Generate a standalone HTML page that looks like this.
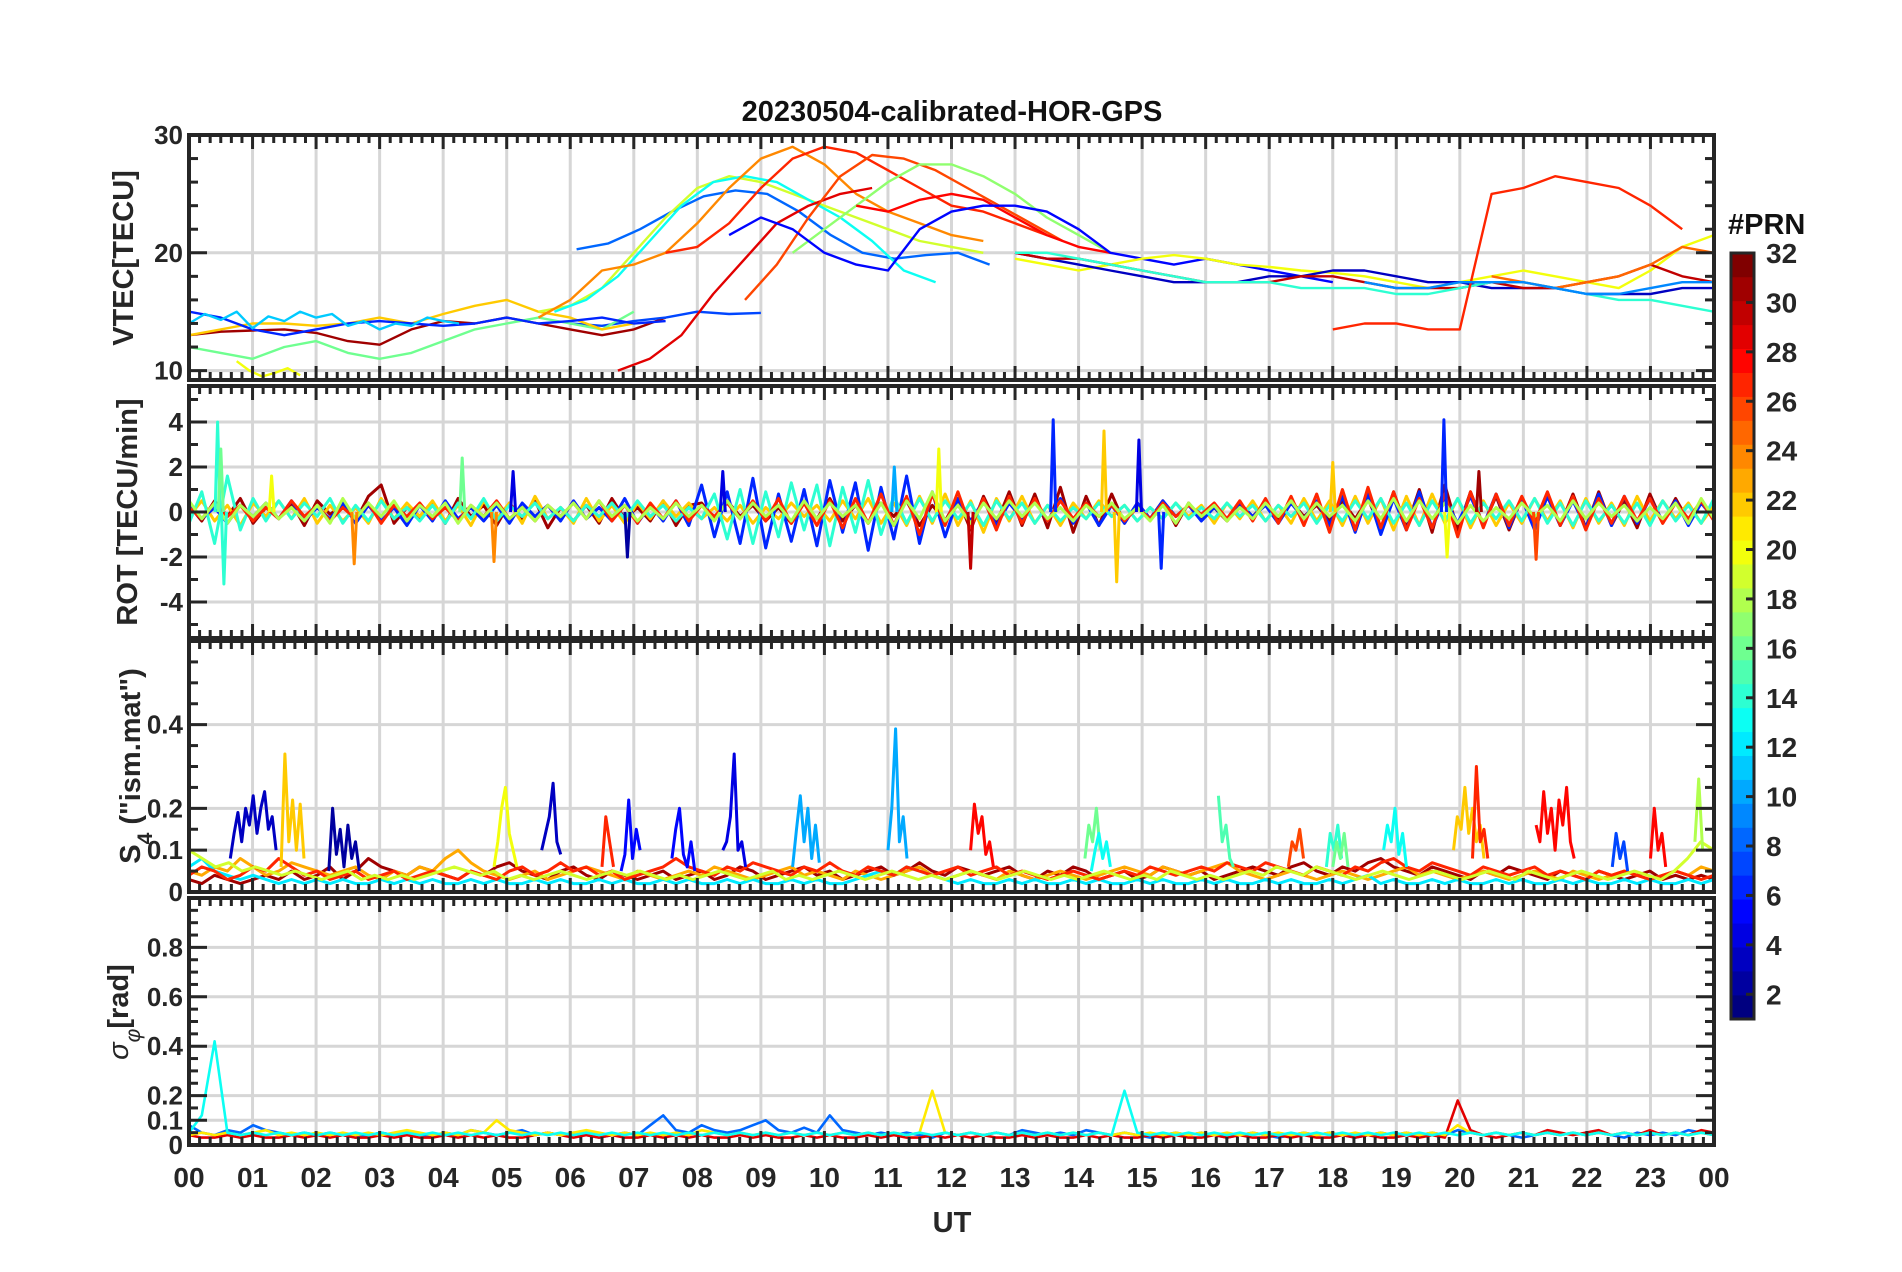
<!DOCTYPE html>
<html><head><meta charset="utf-8"><title>20230504-calibrated-HOR-GPS</title>
<style>
html,body{margin:0;padding:0;background:#fff;}
svg{display:block;font-family:"Liberation Sans",Arial,sans-serif;font-weight:bold;}
</style></head>
<body>
<svg id="fig" width="1902" height="1272" viewBox="0 0 1902 1272" xmlns="http://www.w3.org/2000/svg">
<rect width="1902" height="1272" fill="#fff"/>
<text x="952" y="121" font-size="29" text-anchor="middle" fill="#111">20230504-calibrated-HOR-GPS</text>
<text x="952" y="1232" font-size="29" text-anchor="middle" fill="#262626">UT</text>
<g id="panels"></g>
<g id="cbar"></g>
</svg>
<script>
// ---------- data ----------
const hours = ["00","01","02","03","04","05","06","07","08","09","10","11","12","13","14","15","16","17","18","19","20","21","22","23","00"];
const vtecTicks=[10,20,30], rotTicks=[-4,-2,0,2,4], s4Ticks=[0,0.1,0.2,0.4], sigTicks=[0,0.1,0.2,0.4,0.6,0.8];
const cbarTicks=[2,4,6,8,10,12,14,16,18,20,22,24,26,28,30,32];
// VTEC arcs
const vtecPRN=[31,7,16,22,6,8,19,13,24,27,29,26,17,28,5,20,3,30,14,27,25,9,11,20];
const vtecT0=[0,6,0,0,0,6.1,5.5,5.75,5.5,7.5,6.75,8.75,9.5,10.5,8.5,13,13,13,13,18,20.5,18.5,0,0.75];
const vtecStep=[0.5,0.5,0.5,0.5,0.5,0.5,0.5,0.5,0.5,0.5,0.5,0.5,0.5,0.5,0.5,0.5,0.5,0.5,0.5,0.5,0.5,0.5,0.25,0.2];
const vtecVals=[
[13,13.3,13.4,13.5,13.2,12.5,12.2,13.5,14.2,14,14.5,14,13.5,13,13.5,14.5],
[14,13.8,14.2,14.5,15,14.8,14.9],
[12,11.5,11,12,12.5,11.5,11,11.5,12.5,13.5,14,14.5,14,13.5,15],
[13,13.5,14,14,13.8,14,14.5,14,14.8,15.5,16,15,14.5,13.5,14],
[15,14.5,13.5,13,13.5,14,14.2,14,13.8,14,14.5,14,14.2,14.5,14,14.2],
[20.3,20.8,22,23.5,24.8,25.3,25,23.5,21.5,20,19.5,19.8,20,19],
[15,15.5,17,20,23,25.5,26.5,26,25,24,23,22,21,20.5,20],
[15,16,18,21,24,26,26.5,26,24.5,23,21,18.5,17.5],
[14.5,16,18.5,19,20,22.5,25.5,28,29,27.5,25,23.5,22.5,21.5,21],
[20,20.5,22.5,25.5,28,29,28.5,27,25.5,24,23.5,22.5,21.5],
[10,11,13,16.5,19.5,22.5,24,25,25.5],
[16,19,23,26.5,28.3,28,27,25.5,24,22.5,21],
[20,22,24,26,27.5,27.5,26.5,25,23,21.5,20],
[24,23.5,24.5,25,24.5,23,21.5,20.5,20],
[21.5,23,22,20,19,18.5,22,23.5,24,24,23.5,22,20,19.5,19,19.5,19,18.5,18,17.5],
[19.5,19,18.5,19,19.5,19.8,19.5,19,18.8,18.5,18.3,18,17.5,17,17.5,18,18.5,18,17.5,17,18.5,20.5,21.5,20,18],
[20,19.5,19,18.5,18,17.5,17.5,17.5,18,18,18.5,18.5,18,17.5,17.5,17,17,17,16.5,16.5,16.5,17,17,16.5,16,16.5,16.5,16,17,19,17,15.5],
[20,19.5,19.5,19,18.5,18,17.5,17.5,17.5,18,18,17.5,17,17,17,17.5,17,17,17.5,18,19,18,17.5,17,17.5,16.5,16,15.5,15,14.5,14,14.5,14],
[20,20,19.5,19,18.5,18,17.5,17.5,17.5,17,17,17,16.5,16.5,17,17.5,17.5,17,16.5,16,16,15.5,15,15,15.5,16,15.5,15,14.5,15,15],
[13.5,14,14,13.5,13.5,25,25.5,26.5,26,25.5,24,22],
[18,17.5,17,17.5,18,19,20.5,20,18.5,16.5,15,14,13.5,14,14.5,14],
[17.5,17,17,17.5,17.5,17.5,17,16.5,16.5,17,17.5,17.5,17,16.5,15.5,15,15,15,15],
[14,14.8,14.3,15,13.6,14.6,14.2,15,14.5,14.8,13.8,14.2,13.5,14,13.8,14.5,14.2,14],
[10.8,10,9.5,9.8,10.2,9.6]
];
// ROT noise
const rotPRN=[31,22,6,14,27,18];
const rotVals=[
[0.3,-0.4,0.5,-0.2,0.6,-0.5,0.2,-0.3,0.4,-0.6,0.5,-0.1,0.3,-0.4,0.7,1.2,-0.5,0.2,-0.3,0.4,-0.5,0.6,-0.2,0.3,-0.6,0.4,-0.3,0.5,-0.7,0.2,-0.4,0.3,-0.5,0.6,-0.3,0.2,-0.4,0.5,-0.6,0.3,0.4,-0.3,0.5,-0.2,0.3,-0.4,0.2,-0.5,0.4,-0.3,0.6,-0.4,0.3,-0.5,0.4,-0.2,0.5,-0.6,0.3,-0.4,0.6,-0.8,0.7,-0.5,0.9,-0.6,0.8,-0.7,1.1,-0.9,0.7,-0.6,0.8,-0.5,0.4,-0.3,0.5,-0.6,0.4,-0.3,0.2,-0.4,0.3,-0.2,0.4,-0.3,0.5,-0.2,0.3,-0.4,0.5,-0.3,0.6,-0.8,0.9,-0.7,1.0,-0.9,1.2,-0.8,0.9,-0.6,0.7,-0.8,0.6,-0.5,0.7,-0.6,0.8,-0.7,0.9,-0.6,0.5,-0.7,0.8,-0.5,0.6,-0.4,0.5,-0.3],
[-0.2,0.5,-0.4,0.3,-0.6,0.4,-0.2,0.5,-0.3,0.6,-0.5,0.3,-0.4,0.2,-0.5,0.6,-0.3,0.4,-0.2,0.5,-0.4,0.3,-0.6,0.5,-0.3,0.4,-0.5,0.7,-0.3,0.2,-0.5,0.6,-0.4,0.3,-0.5,0.4,-0.3,0.5,-0.2,0.4,-0.3,0.2,-0.4,0.3,-0.5,0.2,-0.3,0.4,-0.2,0.3,-0.4,0.5,-0.3,0.6,-0.5,0.4,-0.6,0.7,-0.5,0.8,-0.6,0.5,-0.9,0.6,-0.4,0.7,-0.5,0.3,-0.6,0.4,-0.3,0.5,-0.2,0.3,-0.4,0.2,-0.3,0.4,-0.2,0.3,-0.5,0.4,-0.3,0.5,-0.4,0.3,-0.5,0.6,-0.4,0.5,-0.6,0.7,-0.5,0.6,-0.8,0.7,-0.6,0.8,-0.5,0.6,-0.7,0.5,-0.6,0.4,-0.5,0.6,-0.4,0.5,-0.7,0.6,-0.5,0.4,-0.6,0.7,-0.4,0.5,-0.3,0.4,-0.5,0.3],
[0.4,-0.3,0.2,-0.5,0.3,-0.2,0.4,-0.3,0.5,-0.4,0.2,-0.3,0.4,-0.5,0.3,-0.4,0.2,-0.6,0.3,-0.4,0.5,-0.3,0.2,-0.4,0.3,-0.5,0.4,-0.2,0.3,-0.4,0.5,-0.3,0.2,-0.4,0.6,-0.5,0.3,-0.4,0.5,-0.6,1.2,-1.1,0.9,-1.4,1.5,-1.6,0.8,-1.3,1.0,-1.5,1.4,-0.9,1.3,-1.7,1.1,-1.2,1.6,-1.4,0.9,-1.1,0.6,-0.4,0.5,-0.6,0.4,-0.3,0.5,-0.4,0.6,-0.5,0.4,-0.6,0.3,-0.5,0.4,-0.3,0.5,-0.2,0.3,-0.4,0.2,-0.3,0.4,-0.2,0.3,-0.5,0.4,-0.3,0.5,-0.6,0.7,-0.9,0.8,-1.0,0.6,-0.8,0.9,-0.7,0.6,-0.5,0.7,-0.6,0.8,-0.7,0.6,-0.8,0.7,-0.6,0.5,-0.7,0.8,-0.6,0.7,-0.5,0.6,-0.4,0.5,-0.6,0.4,-0.3],
[-0.5,0.9,-1.4,1.6,-0.8,0.6,-0.4,0.5,-0.3,0.4,-0.2,0.6,-0.5,0.3,-0.4,0.5,-0.3,0.2,-0.4,0.3,-0.5,0.4,-0.3,0.6,-0.4,0.3,-0.2,0.4,-0.3,0.2,-0.4,0.3,-0.2,0.4,-0.3,0.5,-0.2,0.3,-0.4,0.2,-0.3,0.8,-1.2,1.0,-1.4,0.9,-1.1,1.3,-0.8,1.2,-1.5,1.1,-0.9,1.4,-1.0,0.7,-0.5,0.6,-0.4,0.5,-0.3,0.4,-0.6,0.5,-0.3,0.4,-0.5,0.3,-0.4,0.2,-0.3,0.4,-0.2,0.3,-0.4,0.2,-0.3,0.4,-0.3,0.2,-0.3,0.4,-0.2,0.3,-0.4,0.3,-0.2,0.4,-0.5,0.3,-0.4,0.5,-0.3,0.6,-0.5,0.4,-0.6,0.5,-0.4,0.6,-0.5,0.4,-0.3,0.5,-0.4,0.6,-0.5,0.4,-0.6,0.5,-0.4,0.3,-0.5,0.4,-0.6,0.5,-0.4,0.3,-0.5,0.6],
[0.2,-0.3,0.4,-0.2,0.3,-0.4,0.2,-0.3,0.5,-0.2,0.3,-0.4,0.2,-0.3,0.4,-0.5,0.3,-0.2,0.4,-0.3,0.2,-0.4,0.3,-0.2,0.5,-0.3,0.2,-0.4,0.3,-0.2,0.4,-0.3,0.5,-0.4,0.3,-0.5,0.4,-0.3,0.5,-0.4,0.3,-0.2,0.4,-0.3,0.5,-0.4,0.6,-0.5,0.4,-0.6,0.5,-0.7,0.6,-0.5,0.8,-0.6,0.7,-1.0,0.8,-0.6,0.9,-0.7,0.6,-0.8,0.7,-0.5,0.6,-0.4,0.5,-0.3,0.4,-0.2,0.3,-0.4,0.2,-0.3,0.4,-0.2,0.3,-0.1,0.4,-0.3,0.5,-0.4,0.6,-0.5,0.7,-0.6,0.8,-0.9,1.0,-0.8,1.1,-0.7,0.9,-0.8,0.6,-0.7,0.8,-1.1,0.9,-0.7,0.8,-0.6,0.7,-0.5,0.9,-0.6,0.7,-0.8,0.6,-0.5,0.7,-0.4,0.6,-0.5,0.4,-0.3,0.5,-0.4],
[0.5,-0.3,0.4,-0.5,0.3,-0.2,0.4,-0.3,0.2,-0.4,0.3,-0.5,0.6,-0.3,0.4,-0.2,0.5,-0.4,0.3,-0.2,0.4,-0.5,0.3,-0.2,0.4,-0.3,0.2,-0.4,0.3,-0.2,0.4,-0.3,0.5,-0.2,0.3,-0.4,0.2,-0.3,0.4,-0.2,0.3,-0.4,0.5,-0.3,0.4,-0.2,0.3,-0.4,0.5,-0.3,0.4,-0.2,0.3,-0.5,0.4,-0.6,0.5,-0.3,0.9,-0.4,0.3,-0.5,0.4,-0.3,0.5,-0.2,0.4,-0.3,0.2,-0.4,0.3,-0.2,0.4,-0.3,0.2,-0.4,0.3,-0.5,0.4,-0.2,0.3,-0.4,0.2,-0.3,0.4,-0.2,0.5,-0.3,0.4,-0.2,0.3,-0.4,0.5,-0.3,0.6,-0.4,0.5,-0.3,0.4,-0.5,0.3,-0.4,0.2,-0.3,0.4,-0.2,0.3,-0.4,0.5,-0.3,0.4,-0.2,0.3,-0.4,0.2,-0.3,0.4,-0.5,0.6,-0.3]
];
// ROT spikes
const spikeT=[0.45,0.55,0.5,1.3,2.6,4.3,4.8,5.1,6.9,8.4,11.1,11.8,12.3,13.6,14.4,14.6,14.95,15.3,18.0,19.75,19.8,20.3,21.2];
const spikeV=[4.0,-3.2,2.8,1.6,-2.3,2.4,-2.2,1.8,-2.0,1.8,2.0,2.8,-2.5,4.1,3.6,-3.1,3.2,-2.5,2.2,4.1,-2.0,1.8,-2.1];
const spikePRN=[14,14,16,20,24,16,24,4,2,4,10,20,30,6,22,22,4,6,22,6,20,31,26];
// S4 background
const s4PRN=[31,23,12,27,19];
const s4Vals=[
[0.03,0.02,0.04,0.03,0.02,0.03,0.04,0.03,0.05,0.03,0.04,0.06,0.03,0.05,0.08,0.06,0.05,0.04,0.06,0.05,0.04,0.03,0.05,0.04,0.06,0.07,0.05,0.04,0.03,0.05,0.06,0.04,0.03,0.05,0.04,0.03,0.04,0.05,0.03,0.04,0.05,0.03,0.04,0.06,0.05,0.03,0.04,0.05,0.06,0.04,0.05,0.03,0.04,0.05,0.06,0.04,0.05,0.07,0.05,0.04,0.06,0.05,0.04,0.05,0.06,0.04,0.03,0.05,0.04,0.06,0.05,0.03,0.04,0.05,0.03,0.04,0.06,0.05,0.04,0.05,0.03,0.04,0.05,0.06,0.05,0.04,0.06,0.07,0.05,0.04,0.06,0.05,0.07,0.08,0.06,0.05,0.04,0.06,0.05,0.04,0.03,0.05,0.04,0.06,0.05,0.04,0.03,0.05,0.04,0.03,0.05,0.04,0.03,0.04,0.05,0.03,0.04,0.03,0.04,0.03],
[0.05,0.04,0.06,0.05,0.08,0.06,0.04,0.05,0.07,0.06,0.05,0.04,0.05,0.06,0.04,0.03,0.05,0.04,0.06,0.05,0.08,0.1,0.07,0.05,0.04,0.03,0.04,0.05,0.03,0.04,0.05,0.06,0.05,0.04,0.03,0.05,0.04,0.03,0.04,0.05,0.04,0.06,0.05,0.04,0.03,0.04,0.05,0.06,0.04,0.05,0.04,0.03,0.05,0.04,0.03,0.04,0.05,0.06,0.04,0.03,0.04,0.05,0.04,0.03,0.05,0.04,0.03,0.04,0.05,0.04,0.03,0.04,0.05,0.06,0.05,0.04,0.06,0.05,0.04,0.05,0.06,0.07,0.05,0.04,0.03,0.04,0.05,0.04,0.03,0.04,0.05,0.04,0.03,0.04,0.05,0.06,0.04,0.05,0.04,0.03,0.04,0.05,0.04,0.03,0.04,0.05,0.04,0.03,0.05,0.04,0.03,0.04,0.05,0.04,0.03,0.04,0.05,0.04,0.06,0.05],
[0.06,0.08,0.05,0.04,0.03,0.04,0.03,0.02,0.03,0.02,0.03,0.02,0.03,0.02,0.02,0.03,0.02,0.03,0.02,0.03,0.02,0.02,0.03,0.02,0.03,0.02,0.02,0.03,0.02,0.03,0.02,0.02,0.03,0.02,0.03,0.02,0.02,0.03,0.02,0.03,0.02,0.02,0.03,0.02,0.03,0.02,0.02,0.03,0.02,0.03,0.02,0.02,0.03,0.04,0.05,0.04,0.06,0.05,0.04,0.03,0.02,0.03,0.02,0.02,0.03,0.02,0.03,0.02,0.02,0.03,0.02,0.03,0.02,0.02,0.03,0.02,0.03,0.02,0.02,0.03,0.02,0.03,0.02,0.02,0.03,0.02,0.03,0.02,0.02,0.03,0.02,0.03,0.04,0.02,0.03,0.02,0.02,0.03,0.02,0.03,0.02,0.02,0.03,0.02,0.03,0.02,0.02,0.03,0.02,0.03,0.02,0.02,0.03,0.02,0.03,0.02,0.02,0.03,0.02,0.03],
[0.04,0.06,0.05,0.03,0.04,0.06,0.05,0.08,0.06,0.04,0.05,0.03,0.04,0.05,0.03,0.04,0.05,0.03,0.04,0.05,0.04,0.03,0.05,0.04,0.03,0.05,0.06,0.04,0.05,0.07,0.05,0.06,0.04,0.05,0.03,0.04,0.05,0.06,0.08,0.06,0.05,0.04,0.06,0.05,0.07,0.06,0.05,0.04,0.06,0.05,0.07,0.05,0.04,0.06,0.05,0.04,0.06,0.05,0.04,0.05,0.06,0.04,0.05,0.06,0.04,0.05,0.04,0.03,0.04,0.05,0.04,0.03,0.04,0.05,0.04,0.06,0.05,0.04,0.05,0.06,0.05,0.07,0.06,0.05,0.07,0.06,0.05,0.04,0.06,0.05,0.04,0.06,0.05,0.07,0.08,0.06,0.05,0.07,0.06,0.05,0.04,0.06,0.05,0.04,0.05,0.06,0.04,0.05,0.04,0.03,0.05,0.04,0.05,0.04,0.03,0.04,0.05,0.04,0.03,0.04],
[0.1,0.08,0.06,0.07,0.05,0.06,0.05,0.04,0.05,0.04,0.03,0.04,0.05,0.03,0.04,0.03,0.04,0.03,0.04,0.05,0.06,0.05,0.04,0.05,0.03,0.04,0.03,0.04,0.05,0.04,0.03,0.04,0.05,0.04,0.05,0.04,0.03,0.04,0.03,0.04,0.05,0.04,0.03,0.04,0.05,0.03,0.04,0.03,0.04,0.05,0.04,0.03,0.04,0.05,0.04,0.03,0.04,0.03,0.04,0.05,0.04,0.03,0.04,0.05,0.04,0.03,0.04,0.03,0.04,0.05,0.04,0.03,0.04,0.03,0.05,0.04,0.03,0.04,0.03,0.04,0.05,0.04,0.06,0.05,0.04,0.06,0.05,0.04,0.03,0.04,0.05,0.04,0.03,0.04,0.05,0.04,0.03,0.04,0.05,0.04,0.03,0.05,0.04,0.03,0.04,0.05,0.04,0.03,0.04,0.05,0.04,0.03,0.05,0.08,0.12,0.1]
];
// S4 bursts
const burstPRN=[3,22,2,20,3,5,27,5,4,10,10,28,16,13,15,26,14,16,13,22,27,28,7,28,18];
const burstT0=[0.65,1.45,2.2,4.8,5.55,6.8,6.5,7.6,8.4,9.5,11.0,12.3,14.1,14.2,16.2,17.3,17.9,18.0,18.8,19.9,20.2,21.2,22.4,23.0,23.7];
const burstVals=[
[0.08,0.14,0.19,0.12,0.2,0.16,0.23,0.14,0.2,0.24,0.15,0.18,0.1],
[0.06,0.33,0.12,0.22,0.1,0.21,0.08],
[0.05,0.2,0.09,0.15,0.06,0.16,0.08,0.12,0.05],
[0.06,0.12,0.2,0.25,0.14,0.1,0.06],
[0.1,0.14,0.18,0.26,0.12,0.09],
[0.05,0.09,0.22,0.08,0.15,0.1],
[0.06,0.18,0.12,0.06],
[0.08,0.15,0.2,0.09,0.06,0.12,0.05],
[0.1,0.12,0.18,0.33,0.1,0.12,0.06],
[0.06,0.15,0.23,0.12,0.2,0.08,0.16,0.07],
[0.1,0.2,0.39,0.12,0.18,0.08],
[0.1,0.21,0.14,0.18,0.09,0.12,0.06],
[0.08,0.16,0.12,0.2,0.1],
[0.05,0.1,0.14,0.08,0.12,0.06],
[0.23,0.12,0.16,0.08,0.06],
[0.06,0.12,0.1,0.15,0.08],
[0.06,0.14,0.1,0.16,0.08],
[0.06,0.12,0.08,0.14,0.06],
[0.1,0.16,0.12,0.2,0.09,0.14,0.06],
[0.1,0.18,0.15,0.25,0.14,0.2,0.12,0.16,0.08],
[0.08,0.3,0.12,0.15,0.08],
[0.16,0.12,0.24,0.14,0.2,0.1,0.22,0.16,0.25,0.12,0.08],
[0.06,0.14,0.08,0.12,0.05],
[0.08,0.2,0.1,0.14,0.06],
[0.12,0.27,0.1]
];
// sigma-phi
const sigPRN=[8,29,21,13];
const sigVals=[
[0.08,0.05,0.04,0.06,0.05,0.08,0.06,0.05,0.04,0.05,0.04,0.05,0.04,0.03,0.04,0.05,0.04,0.05,0.04,0.03,0.05,0.04,0.06,0.05,0.04,0.05,0.06,0.04,0.05,0.04,0.05,0.04,0.03,0.04,0.05,0.04,0.08,0.12,0.06,0.05,0.08,0.06,0.05,0.06,0.08,0.1,0.06,0.05,0.07,0.05,0.12,0.06,0.05,0.04,0.05,0.04,0.05,0.04,0.03,0.05,0.04,0.05,0.04,0.05,0.04,0.06,0.05,0.04,0.05,0.04,0.06,0.05,0.04,0.05,0.04,0.03,0.04,0.05,0.04,0.05,0.04,0.03,0.04,0.05,0.04,0.03,0.04,0.05,0.04,0.05,0.04,0.03,0.04,0.05,0.04,0.05,0.04,0.05,0.04,0.06,0.05,0.04,0.05,0.04,0.03,0.04,0.05,0.04,0.05,0.04,0.05,0.04,0.03,0.05,0.04,0.05,0.04,0.06,0.05,0.04],
[0.04,0.03,0.03,0.04,0.03,0.04,0.03,0.03,0.04,0.03,0.04,0.03,0.04,0.03,0.03,0.04,0.03,0.04,0.03,0.03,0.04,0.03,0.04,0.03,0.04,0.03,0.03,0.04,0.05,0.04,0.03,0.04,0.03,0.04,0.03,0.03,0.04,0.03,0.04,0.03,0.04,0.03,0.03,0.04,0.03,0.04,0.03,0.03,0.04,0.03,0.04,0.03,0.03,0.04,0.03,0.04,0.03,0.03,0.04,0.03,0.04,0.03,0.04,0.03,0.03,0.04,0.03,0.04,0.03,0.03,0.04,0.03,0.04,0.03,0.03,0.04,0.03,0.04,0.03,0.03,0.04,0.03,0.04,0.03,0.03,0.04,0.03,0.04,0.03,0.03,0.04,0.03,0.04,0.03,0.03,0.04,0.03,0.04,0.03,0.18,0.06,0.04,0.03,0.04,0.05,0.04,0.06,0.05,0.04,0.05,0.06,0.04,0.05,0.04,0.06,0.04,0.05,0.04,0.06,0.05],
[0.04,0.05,0.04,0.05,0.04,0.05,0.06,0.04,0.05,0.04,0.05,0.04,0.05,0.04,0.05,0.04,0.05,0.06,0.05,0.04,0.05,0.04,0.06,0.05,0.1,0.06,0.05,0.04,0.05,0.04,0.05,0.06,0.05,0.04,0.05,0.04,0.05,0.04,0.05,0.04,0.06,0.05,0.04,0.05,0.04,0.05,0.04,0.05,0.04,0.05,0.04,0.05,0.04,0.05,0.04,0.05,0.04,0.05,0.22,0.05,0.04,0.05,0.04,0.05,0.04,0.05,0.04,0.05,0.04,0.05,0.04,0.05,0.04,0.05,0.04,0.05,0.04,0.05,0.04,0.05,0.04,0.05,0.04,0.05,0.04,0.05,0.04,0.05,0.04,0.05,0.04,0.05,0.04,0.05,0.04,0.05,0.04,0.05,0.04,0.08,0.05,0.04,0.05,0.04,0.05,0.04,0.05,0.04,0.05,0.04,0.05,0.04,0.05,0.04,0.05,0.04,0.05,0.04,0.05,0.04],
[0.05,0.12,0.42,0.05,0.04,0.05,0.04,0.05,0.04,0.05,0.04,0.05,0.04,0.05,0.04,0.05,0.04,0.05,0.04,0.05,0.04,0.05,0.04,0.05,0.04,0.05,0.04,0.05,0.04,0.05,0.04,0.05,0.04,0.05,0.04,0.05,0.04,0.05,0.04,0.05,0.04,0.05,0.04,0.05,0.04,0.05,0.04,0.05,0.04,0.05,0.04,0.05,0.04,0.05,0.04,0.05,0.04,0.05,0.04,0.05,0.04,0.05,0.04,0.05,0.04,0.05,0.04,0.05,0.04,0.05,0.04,0.05,0.04,0.22,0.05,0.04,0.05,0.04,0.05,0.04,0.05,0.04,0.05,0.04,0.05,0.04,0.05,0.04,0.05,0.04,0.05,0.04,0.05,0.04,0.05,0.04,0.05,0.04,0.05,0.04,0.05,0.04,0.05,0.04,0.05,0.04,0.05,0.04,0.05,0.04,0.05,0.04,0.05,0.04,0.05,0.04,0.05,0.04,0.05,0.04]
];

// ---------- drawing ----------
const NS="http://www.w3.org/2000/svg";
const XL=189, XR=1714;
const xs=h=>XL+h/24*(XR-XL);
function jet(v){
  const t=(v-1)/31;
  const f=x=>Math.max(0,Math.min(1,x));
  const r=f(1.5-Math.abs(4*t-3)), g=f(1.5-Math.abs(4*t-2)), b=f(1.5-Math.abs(4*t-1));
  return `rgb(${Math.round(r*255)},${Math.round(g*255)},${Math.round(b*255)})`;
}
function el(tag,attrs,parent){const e=document.createElementNS(NS,tag);for(const k in attrs)e.setAttribute(k,attrs[k]);parent.appendChild(e);return e;}
const root=document.getElementById('panels');
const panels=[
 {name:'vtec',top:135,bot:380,ymin:9.2,ymax:30,ticks:vtecTicks,minor:[12,14,16,18,22,24,26,28],w:2.4},
 {name:'rot',top:386,bot:638,ymin:-5.6,ymax:5.6,ticks:rotTicks,minor:[-5,-3,-1,1,3,5],w:3},
 {name:'s4',top:641,bot:892,ymin:0,ymax:0.6,ticks:s4Ticks,minor:[0.05,0.15,0.25,0.3,0.35,0.45,0.5,0.55],w:3},
 {name:'sigma',top:898,bot:1145,ymin:0,ymax:1,ticks:sigTicks,minor:[0.05,0.15,0.25,0.3,0.35,0.45,0.5,0.55,0.65,0.7,0.75,0.85,0.9,0.95],w:2.6}
];
panels.forEach((p,pi)=>{
  const ys=v=>p.bot-(v-p.ymin)/(p.ymax-p.ymin)*(p.bot-p.top);
  p.ys=ys;
  const g=el('g',{},root);
  
  
  const cid='clip'+pi;
  const cp=el('clipPath',{id:cid},g);el('rect',{x:XL,y:p.top,width:XR-XL,height:p.bot-p.top},cp);
  const grid=el('g',{stroke:'#d6d6d6','stroke-width':3},g);
  
  
  for(let h=1;h<24;h++) el('line',{x1:xs(h),x2:xs(h),y1:p.top,y2:p.bot},grid);
  p.ticks.forEach(v=>{el('line',{x1:XL,x2:XR,y1:ys(v),y2:ys(v)},grid);});
  p.data=el('g',{'clip-path':`url(#${cid})`,fill:'none','stroke-width':p.w,'stroke-linejoin':'round'},g);
  
  
  const ax=el('g',{stroke:'#262626'},g);
  
  
  p.ax=ax;
  for(let m=0;m<=144;m++){const x=xs(m/6);const L=m%6===0?14:8;
    el('line',{x1:x,x2:x,y1:p.top,y2:p.top+L,'stroke-width':3},ax);
    el('line',{x1:x,x2:x,y1:p.bot,y2:p.bot-L,'stroke-width':3},ax);}
  p.ticks.forEach(v=>{const y=ys(v);
    el('line',{x1:XL,x2:XL+18,y1:y,y2:y,'stroke-width':3},ax);el('line',{x1:XR,x2:XR-18,y1:y,y2:y,'stroke-width':3},ax);
    const t=el('text',{x:XL-6,y:y+9,'font-size':26,'text-anchor':'end',fill:'#262626',stroke:'none'},g);
    t.textContent=String(v);
    
    
  });
  p.minor.forEach(v=>{const y=ys(v);
    el('line',{x1:XL,x2:XL+9,y1:y,y2:y,'stroke-width':3},ax);el('line',{x1:XR,x2:XR-9,y1:y,y2:y,'stroke-width':3},ax);});
  el('rect',{x:XL,y:p.top,width:XR-XL,height:p.bot-p.top,fill:'none','stroke-width':4},ax);
});
hours.forEach((h,i)=>{const t=el('text',{x:xs(i),y:1187,'font-size':28,'text-anchor':'middle',fill:'#262626'},root);t.textContent=h;
  
  });
function ytitle(x,y,html,name){const t=el('text',{transform:`translate(${x},${y}) rotate(-90)`,'font-size':29,'text-anchor':'middle',fill:'#262626'},root);t.innerHTML=html;
  
  }
ytitle(133,258,'VTEC[TECU]','vtec-y-title');
ytitle(137,512,'ROT [TECU/min]','rot-y-title');
ytitle(140,766,'S<tspan font-size="21" dy="12">4</tspan><tspan dy="-12"> ("ism.mat")</tspan>','s4-y-title');
ytitle(128,1012,'<tspan font-style="italic" font-weight="normal">σ</tspan><tspan font-size="21" dy="12" font-style="italic" font-weight="normal">φ</tspan><tspan dy="-12">[rad]</tspan>','sigma-y-title');

function poly(p,pts,prn,name){const pl=el('polyline',{points:pts.map(q=>q[0].toFixed(1)+','+q[1].toFixed(1)).join(' '),stroke:jet(prn)},p.data);
  
  }
const P1=panels[0];
vtecVals.forEach((vals,i)=>{poly(P1,vals.map((v,k)=>[xs(vtecT0[i]+k*vtecStep[i]),P1.ys(v)]),vtecPRN[i],'vtec-prn-'+vtecPRN[i]);});
const P2=panels[1];
rotVals.forEach((vals,i)=>{const st=24/(vals.length-1);poly(P2,vals.map((v,k)=>[xs(k*st),P2.ys(v)]),rotPRN[i],'rot-prn-'+rotPRN[i]);});
spikeT.forEach((t,i)=>{poly(P2,[[xs(t-0.04),P2.ys(0)],[xs(t),P2.ys(spikeV[i])],[xs(t+0.04),P2.ys(0)]],spikePRN[i],'rot-spike');});
const P3=panels[2];
s4Vals.forEach((vals,i)=>{const st=24/(vals.length-1);poly(P3,vals.map((v,k)=>[xs(k*st),P3.ys(v)]),s4PRN[i],'s4-prn-'+s4PRN[i]);});
burstVals.forEach((vals,i)=>{poly(P3,vals.map((v,k)=>[xs(burstT0[i]+k*0.06),P3.ys(v)]),burstPRN[i],'s4-burst-prn-'+burstPRN[i]);});
const P4=panels[3];
sigVals.forEach((vals,i)=>{const st=24/(vals.length-1);poly(P4,vals.map((v,k)=>[xs(k*st),P4.ys(v)]),sigPRN[i],'sigma-prn-'+sigPRN[i]);});

// colorbar
const cb=document.getElementById('cbar');
const CT=253,CB=1019,CX=1731,CW=23;
const ch=(CB-CT)/32;
for(let k=1;k<=32;k++){const r=el('rect',{x:CX,y:CB-k*ch-0.3,width:CW,height:ch+0.6,fill:jet(k)},cb);
  
  }
el('rect',{x:CX,y:CT,width:CW,height:CB-CT,fill:'none',stroke:'#262626','stroke-width':3},cb);
const cy=v=>CB-(v-1)/31*(CB-CT);
cbarTicks.forEach(v=>{const y=cy(v);el('line',{x1:CX+CW-8,x2:CX+CW,y1:y,y2:y,stroke:'#262626','stroke-width':3},cb);
  const t=el('text',{x:CX+CW+12,y:y+10,'font-size':28,fill:'#262626'},cb);t.textContent=v;
  
  });
const ct=el('text',{x:1728,y:234,'font-size':29,fill:'#111'},cb);ct.textContent='#PRN';


</script>
</body></html>
